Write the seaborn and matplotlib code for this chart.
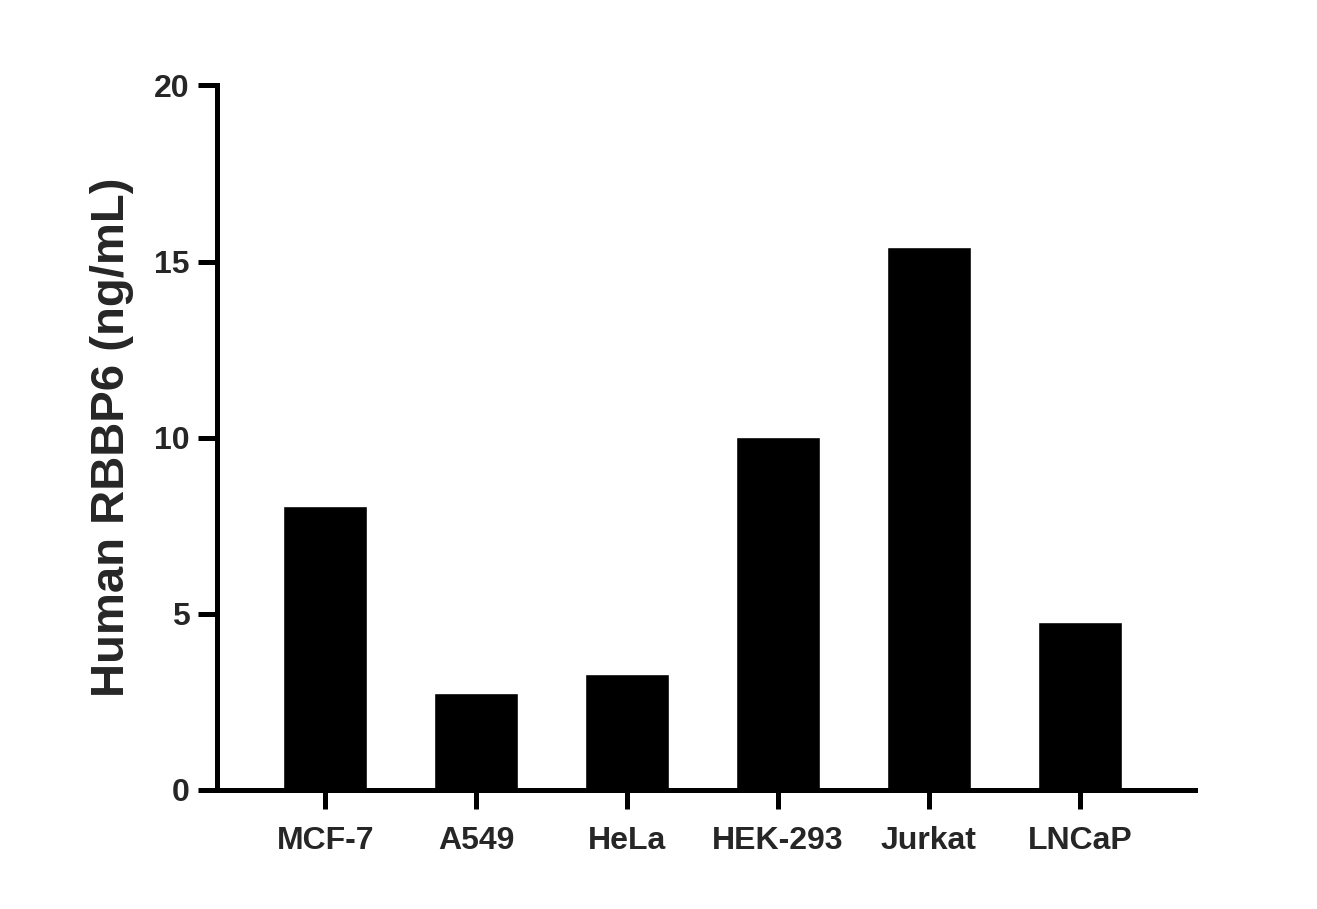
import seaborn as sns
import matplotlib.pyplot as plt
import pandas as pd

cell_lines = ["MCF-7", "A549", "HeLa", "HEK-293", "Jurkat", "LNCaP"]
rbbp6 = [8.06, 2.75, 3.29, 10.01, 15.4, 4.77]

df = pd.DataFrame({"cell": cell_lines, "value": rbbp6})

sns.set_style("ticks")
plt.rcParams['font.family'] = ['Liberation Sans', 'DejaVu Sans']

fig = plt.figure(figsize=(13.17, 9.09), dpi=100)
ax = fig.add_axes([0.165, 0.131, 0.742, 0.775])
sns.barplot(data=df, x="cell", y="value", color="black", width=0.556,
            saturation=1, ax=ax)

ax.set_xlim(-0.715, 5.76)
ax.set_ylim(0, 20)
ax.set_yticks([0, 5, 10, 15, 20])
ax.set_xlabel("")
ax.set_ylabel("Human RBBP6 (ng/mL)", fontsize=34, fontweight="bold", labelpad=14)
for s in ["top", "right"]:
    ax.spines[s].set_visible(False)
for s in ["left", "bottom"]:
    ax.spines[s].set_linewidth(3.6)
    ax.spines[s].set_color("black")
ax.tick_params(axis="both", width=3.6, length=14, color="black", labelsize=23)
ax.tick_params(axis="y", pad=6)
ax.tick_params(axis="x", pad=12)
for lab in ax.get_xticklabels() + ax.get_yticklabels():
    lab.set_fontweight("bold")

fig.savefig("out.png", dpi=100)
